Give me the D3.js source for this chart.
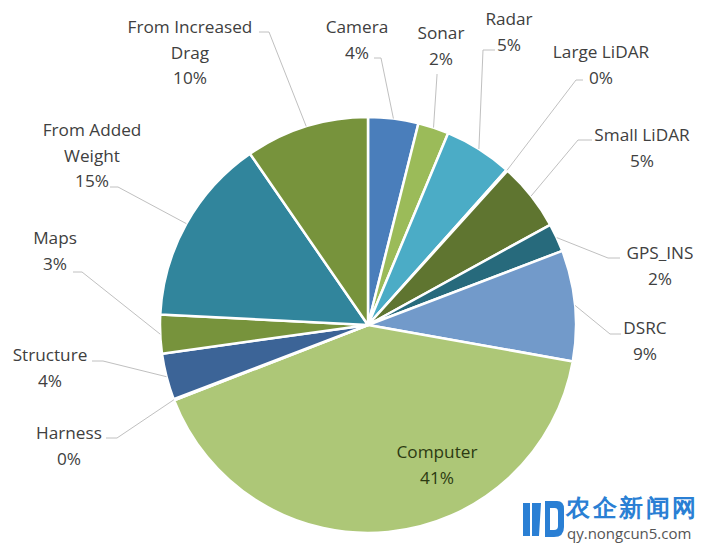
<!DOCTYPE html>
<html>
<head>
<meta charset="utf-8">
<script src="https://cdn.jsdelivr.net/npm/d3@7"></script>
<style>
  html, body { margin: 0; padding: 0; background: #fff; }
  svg { display: block; }
  text { font-family: "Open Sans", "Liberation Sans", sans-serif; }
</style>
</head>
<body>
<svg id="chart" width="713" height="546"></svg>
<script>
// ---- data ----
const categories = ["Camera", "Sonar", "Radar", "Large LiDAR", "Small LiDAR", "GPS_INS", "DSRC",
                    "Computer", "Harness", "Structure", "Maps", "From Added Weight", "From Increased Drag"];
const values = [3.9, 2.4, 5.3, 0.1, 5.3, 2.2, 8.6, 41.3, 0.1, 3.6, 3.0, 14.6, 9.6];
const labelLines = [["Camera"], ["Sonar"], ["Radar"], ["Large LiDAR"], ["Small LiDAR"], ["GPS_INS"], ["DSRC"],
                    ["Computer"], ["Harness"], ["Structure"], ["Maps"], ["From Added", "Weight"], ["From Increased", "Drag"]];
const colors = ["#4a7ebb", "#9bbb59", "#4bacc6", "#8064a2", "#5f7530", "#276a7c", "#729aca",
                "#adc777", "#f79646", "#3c6497", "#77933c", "#31859c", "#77933c"];

// ---- layout (label placement: text centre of first line, leader start, elbow) ----
const labelLayout = [
  {cx: 357, cy: 27, s: [374, 58], e: [381, 58]},
  {cx: 441, cy: 33, s: [437, 74], e: [437, 75]},
  {cx: 509, cy: 19, s: [495, 50], e: [483, 50]},
  {cx: 601, cy: 52, s: [583, 80], e: [576, 80]},
  {cx: 642, cy: 135, s: [592, 140], e: [578, 140]},
  {cx: 660, cy: 253, s: [620, 258], e: [608, 258]},
  {cx: 645, cy: 328, s: [621, 334], e: [610, 334]},
  {cx: 437, cy: 452, s: null, e: null},
  {cx: 69, cy: 433, s: [106, 438], e: [117, 438]},
  {cx: 50, cy: 355, s: [92, 361], e: [103, 361]},
  {cx: 55, cy: 238, s: [73, 272], e: [82, 272]},
  {cx: 92, cy: 130, s: [110, 187], e: [118, 187]},
  {cx: 190, cy: 27, s: [259, 32], e: [269, 32]}
];

const W = 713, H = 546;
const cx = 368, cy = 325, R = 208;
const lineH = 25.5;
const fontSize = 17.2;

const svg = d3.select("#chart");
const total = d3.sum(values);
const data = categories.map((c, i) => ({name: c, value: values[i], i}));

const pie = d3.pie().value(d => d.value).sort(null).startAngle(0).endAngle(2 * Math.PI);
const arc = d3.arc().innerRadius(0).outerRadius(R);
const arcs = pie(data);

const g = svg.append("g").attr("transform", `translate(${cx},${cy})`);
g.selectAll("path.slice")
  .data(arcs)
  .join("path")
  .attr("class", "slice")
  .attr("d", arc)
  .attr("fill", d => colors[d.data.i])
  .attr("stroke", "#fff")
  .attr("stroke-width", 2.5)
  .attr("stroke-linejoin", "round");

// leader lines
const lines = svg.append("g");
arcs.forEach(a => {
  const L = labelLayout[a.data.i];
  if (!L.s) return;
  const mid = (a.startAngle + a.endAngle) / 2;
  const px = cx + R * Math.sin(mid), py = cy - R * Math.cos(mid);
  lines.append("polyline")
    .attr("points", [L.s, L.e, [px, py]].map(p => p.join(",")).join(" "))
    .attr("fill", "none")
    .attr("stroke", "#c0c0c0")
    .attr("stroke-width", 1);
});

// labels
const labels = svg.append("g");
arcs.forEach(a => {
  const i = a.data.i;
  const L = labelLayout[i];
  const pct = Math.round(a.data.value / total * 100) + "%";
  const rows = labelLines[i].concat([pct]);
  const t = labels.append("text")
    .attr("text-anchor", "middle")
    .attr("font-size", fontSize)
    .attr("fill", i === 7 ? "#2c3a12" : "#404040");
  rows.forEach((r, k) => {
    t.append("tspan")
      .attr("x", L.cx)
      .attr("y", L.cy + k * lineH)
      .attr("dy", "0.35em")
      .text(r);
  });
});

// watermark
const wm = svg.append("g");
wm.append("path")
  .attr("d", "M523,503 h7 v33 h-7 z M532,503 l9,0 l-2,33 l-7,0 z M545,501 h12 q7,0 7,8 v18 q0,10 -10,10 h-9 z")
  .attr("fill", "#2a7fd4");
wm.append("path")
  .attr("d", "M550,508 h5 q3,0 3,4 v14 q0,4 -4,4 h-4 z")
  .attr("fill", "#fff");
wm.append("text")
  .attr("x", 566).attr("y", 516)
  .attr("font-family", "Noto Sans CJK SC")
  .attr("font-weight", "bold")
  .attr("font-size", 24)
  .attr("textLength", 130)
  .attr("fill", "#2a7fd4")
  .text("农企新闻网");
wm.append("text")
  .attr("x", 567).attr("y", 539)
  .attr("font-size", 15)
  .attr("fill", "#555")
  .text("qy.nongcun5.com");
</script>
</body>
</html>
